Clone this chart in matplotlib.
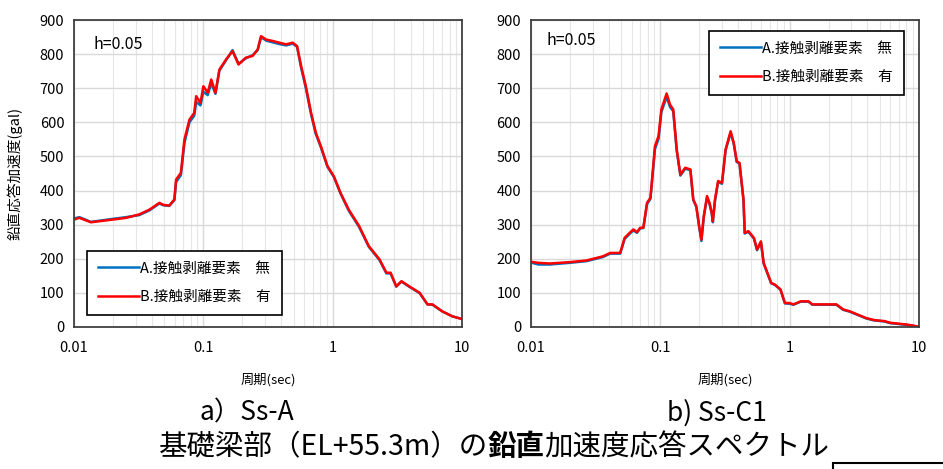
import numpy as np
import matplotlib.pyplot as plt
from matplotlib.ticker import FixedLocator, NullFormatter

plt.rcParams['font.family'] = ['Noto Sans CJK JP', 'DejaVu Sans']

# --- a) Ss-A ---
period_a = [0.01, 0.011, 0.0135, 0.02, 0.0253, 0.0319, 0.0383, 0.0457, 0.049,
            0.0545, 0.0597, 0.0615, 0.067, 0.0714, 0.078, 0.085, 0.088, 0.095,
            0.1, 0.108, 0.115, 0.124, 0.133, 0.15, 0.168, 0.187, 0.213, 0.24,
            0.263, 0.279, 0.306, 0.343, 0.386, 0.436, 0.49, 0.53, 0.57, 0.62,
            0.68, 0.74, 0.81, 0.91, 1.02, 1.15, 1.33, 1.6, 1.9, 2.3, 2.6, 2.8,
            3.1, 3.4, 3.9, 4.7, 5.4, 5.9, 7.0, 8.4, 10.0]
red_a = [315, 320, 307, 315, 320, 330, 344, 364, 358, 356, 374, 432, 452, 550,
         608, 628, 677, 657, 706, 687, 726, 687, 755, 785, 809, 770, 790, 795,
         814, 853, 843, 839, 834, 829, 834, 824, 765, 706, 628, 570, 530, 472,
         442, 393, 344, 296, 237, 198, 159, 159, 119, 134, 119, 100, 66, 66,
         46, 31, 23]
blue_a = [318, 322, 308, 317, 322, 328, 342, 362, 357, 355, 372, 425, 445, 540,
          600, 620, 660, 650, 690, 680, 715, 684, 752, 783, 812, 772, 788, 797,
          812, 850, 840, 835, 830, 826, 831, 822, 760, 700, 624, 566, 527, 470,
          440, 391, 341, 293, 235, 196, 157, 157, 118, 133, 118, 99, 66, 65,
          46, 31, 23]

# --- b) Ss-C1 ---
period_b = [0.01, 0.0114, 0.014, 0.02, 0.027, 0.036, 0.041, 0.049, 0.053,
            0.058, 0.062, 0.066, 0.07, 0.074, 0.079, 0.084, 0.091, 0.097,
            0.102, 0.112, 0.119, 0.126, 0.134, 0.143, 0.156, 0.171, 0.18,
            0.19, 0.2, 0.208, 0.217, 0.23, 0.24, 0.25, 0.255, 0.265, 0.28,
            0.3, 0.32, 0.35, 0.37, 0.39, 0.41, 0.44, 0.45, 0.48, 0.53, 0.56,
            0.6, 0.63, 0.72, 0.77, 0.85, 0.92, 1.0, 1.07, 1.22, 1.4, 1.5,
            1.85, 2.3, 2.6, 2.9, 3.9, 4.5, 5.4, 6.0, 8.0, 9.0, 10.0]
red_b = [191, 188, 186, 190, 195, 207, 217, 217, 261, 276, 286, 278, 291, 291,
         364, 379, 530, 560, 638, 685, 652, 638, 521, 447, 467, 462, 374, 354,
         295, 256, 325, 384, 364, 335, 310, 374, 428, 423, 521, 574, 540, 486,
         481, 374, 276, 281, 261, 227, 251, 188, 129, 124, 110, 70, 70, 66,
         75, 75, 66, 66, 66, 51, 46, 26, 20, 17, 12, 7, 4, 0]
blue_b = [189, 183, 183, 188, 193, 205, 215, 215, 258, 273, 283, 276, 289, 290,
          360, 376, 522, 552, 630, 675, 645, 633, 518, 444, 464, 460, 372, 352,
          293, 252, 322, 380, 362, 333, 307, 370, 425, 420, 518, 570, 537, 484,
          479, 372, 274, 279, 259, 225, 249, 186, 128, 123, 109, 69, 68, 65,
          74, 74, 65, 65, 65, 50, 45, 25, 19, 16, 11, 6, 3, 0]

label_a = 'A.接触剥離要素\u3000無'
label_b = 'B.接触剥離要素\u3000有'
c_blue = '#0070c0'
c_red = '#ff0000'

fig = plt.figure(figsize=(9.43, 4.69), dpi=100)
ax1 = fig.add_axes([0.0785, 0.303, 0.4115, 0.654])
ax2 = fig.add_axes([0.563, 0.303, 0.4115, 0.654])


def style(ax):
    ax.set_xscale('log')
    ax.set_xlim(0.01, 10)
    ax.set_ylim(0, 900)
    ax.set_yticks(np.arange(0, 901, 100))
    ax.xaxis.set_major_locator(FixedLocator([0.01, 0.1, 1, 10]))
    ax.set_xticklabels(['0.01', '0.1', '1', '10'])
    ax.xaxis.set_minor_formatter(NullFormatter())
    ax.grid(True, which='major', color='#d9d9d9', lw=1.0)
    ax.grid(True, which='minor', axis='x', color='#e6e6e6', lw=0.8)
    ax.set_axisbelow(True)
    ax.tick_params(which='both', length=0, labelsize=10.5, colors='#000000')
    ax.tick_params(axis='x', pad=10)
    ax.tick_params(axis='y', pad=7)
    for s in ax.spines.values():
        s.set_color('#404040')
        s.set_linewidth(1.3)
    ax.set_xlabel('周期(sec)', fontsize=9.5, labelpad=13)


for ax, p, b, r in [(ax1, period_a, blue_a, red_a),
                    (ax2, period_b, blue_b, red_b)]:
    style(ax)
    ax.plot(p, b, color=c_blue, lw=1.8, label=label_a)
    ax.plot(p, r, color=c_red, lw=1.8, label=label_b)

ax1.set_ylabel('鉛直応答加速度(gal)', fontsize=10.5, labelpad=12)
ax1.text(0.05, 0.92, 'h=0.05', transform=ax1.transAxes, fontsize=11.5,
         va='center')
ax2.text(0.04, 0.935, 'h=0.05', transform=ax2.transAxes, fontsize=11.5,
         va='center')

leg_kw = dict(fontsize=10.5, frameon=True, fancybox=False, handlelength=2.8,
              handletextpad=0.1, labelspacing=1.0, borderpad=0.75,
              edgecolor='#000000')
l1 = ax1.legend(loc='lower left', bbox_to_anchor=(0.015, 0.015), **leg_kw)
l2 = ax2.legend(loc='upper right', bbox_to_anchor=(0.98, 0.99), **leg_kw)
for lg in (l1, l2):
    lg.get_frame().set_linewidth(1.2)
    lg.get_frame().set_alpha(1)

fig.text(0.262, 0.12, 'a）Ss-A', fontsize=19, ha='center', va='center')
fig.text(0.76, 0.12, 'b) Ss-C1', fontsize=19, ha='center', va='center')

# title with bold part
y_t = 0.047
t1 = fig.text(0.168, y_t, '基礎梁部（EL+55.3m）の', fontsize=20.5, va='center')
fig.canvas.draw()
x2 = t1.get_window_extent().x1 / fig.bbox.width
t2 = fig.text(x2, y_t, '鉛直', fontsize=20.5, va='center', fontweight='bold')
fig.canvas.draw()
x3 = t2.get_window_extent().x1 / fig.bbox.width
fig.text(x3, y_t, '加速度応答スペクトル', fontsize=20.5, va='center')

# underline / box fragment at bottom right
fig.add_artist(plt.Rectangle((833 / 943, -0.05), 0.2, (469 - 463) / 469 + 0.05,
                             transform=fig.transFigure, fill=False,
                             ec='#000000', lw=1.5))

fig.savefig('out.png', dpi=100)
